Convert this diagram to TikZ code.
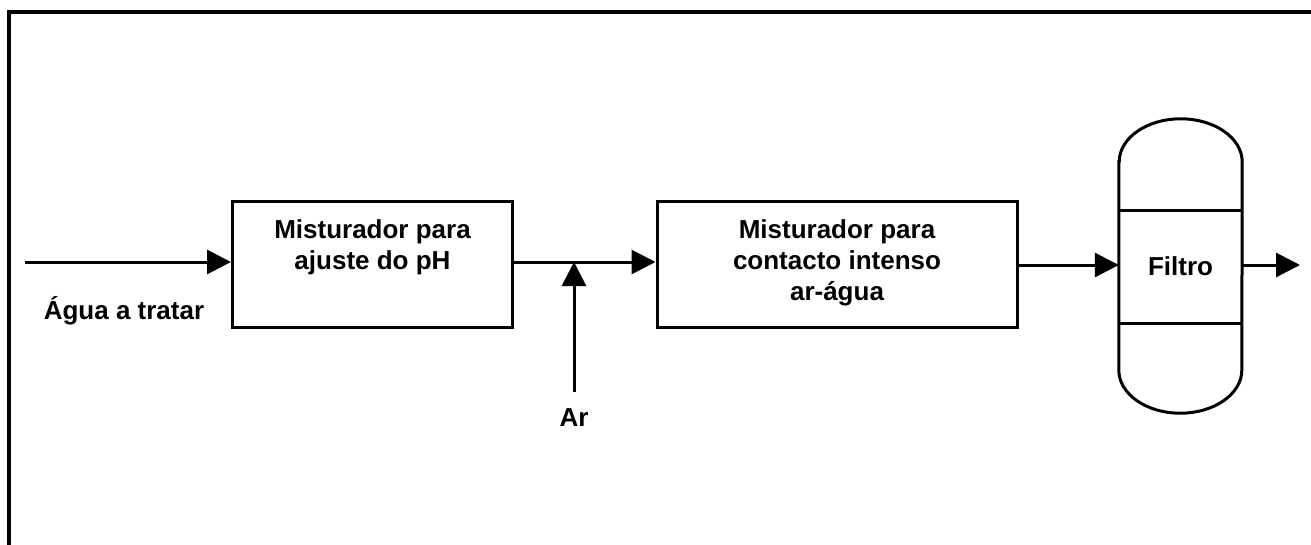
\documentclass[tikz,border=0pt]{standalone}
\usepackage{fontspec}
\setmainfont{Liberation Sans}
\usetikzlibrary{arrows.meta}
\tikzset{
  x=1pt, y=1pt,
  flow/.style={line width=3pt, -{Triangle[length=24pt,width=24pt]}},
  unitbox/.style={draw, line width=3pt, inner sep=0pt},
  lbl/.style={font=\fontsize{26}{31}\selectfont\bfseries, align=center, inner sep=0pt},
}
\begin{document}
\begin{tikzpicture}
\useasboundingbox (0,0) rectangle (1311,-544);
\clip (0,0) rectangle (1311,-544);
% outer frame (cropped at right and bottom)
\draw[line width=4pt] (1330,-12) -- (9,-12) -- (9,-560);
% boxes
\node[unitbox, minimum width=280pt, minimum height=126pt] (b1) at (372.5,-264.5) {};
\node[unitbox, minimum width=360pt, minimum height=126pt] (b2) at (837,-264.5) {};
\node[lbl] (t1) at (372.5,-247) {Misturador para\\ajuste do pH};
\node[lbl] (t2) at (837,-263) {Misturador para\\contacto intenso\\ar-água};
% filter
\node[minimum width=123pt, minimum height=208pt, inner sep=0pt] (f) at (1180.5,-266) {};
\draw[line width=3pt] (f.north west) -- (f.south west)
  arc[start angle=180, end angle=360, x radius=61.5, y radius=43]
  -- (f.north east)
  arc[start angle=0, end angle=180, x radius=61.5, y radius=43] -- cycle;
\draw[line width=3pt] (1119,-210) -- (1242,-210);
\draw[line width=3pt] (1119,-323) -- (1242,-323);
\node[lbl] (tf) at (1180.5,-266) {Filtro};
% labels
\node[lbl] (agua) at (124,-311) {Água a tratar};
\node[lbl] (ar) at (574,-418) {Ar};
% connectors
\coordinate (in) at (25,-262);
\coordinate (arsrc) at (574,-392);
\coordinate (j) at (574,-262);
\coordinate (out) at (1300,-265);
\draw[flow] (in) -- (in -| b1.west);
\draw[flow] (b1.east |- in) -- (b2.west |- in);
\draw[flow] (arsrc) -- (j);
\draw[flow] (b2.east |- out) -- (f.west |- out);
\draw[flow] (f.east |- out) -- (out);
\end{tikzpicture}
\end{document}
